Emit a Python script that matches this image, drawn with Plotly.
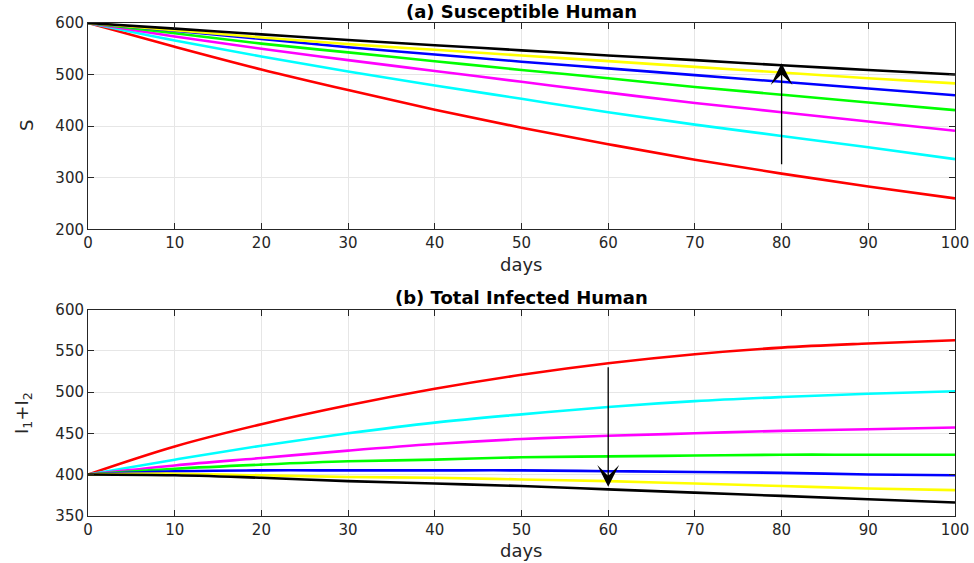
import plotly.graph_objects as go

days = [0, 10, 20, 30, 40, 50, 60, 70, 80, 90, 100]

# (a) Susceptible Human
S_red     = [600, 554, 510, 470, 432, 397, 365, 335, 308, 283, 260]
S_cyan    = [600, 566, 535, 506, 479, 453, 427, 403, 381, 359, 336]
S_magenta = [600, 574, 550, 528, 507, 486, 465, 445, 427, 409, 391]
S_green   = [600, 580, 560, 543, 526, 509, 493, 476, 461, 446, 431]
S_blue    = [600, 585, 569, 553, 539, 525, 512, 499, 486, 473, 460]
S_yellow  = [600, 586, 572, 559, 548, 537, 526, 515, 504, 493, 483]
S_black   = [600, 589, 578, 567, 557, 547, 537, 528, 518, 509, 500]

# (b) Total Infected Human
I_red     = [400, 434, 461, 484, 504, 521, 535, 546, 554, 559, 563]
I_cyan    = [400, 418, 435, 450, 463, 473, 482, 489, 494, 498, 501]
I_magenta = [400, 411, 420, 429, 437, 443, 447, 450, 453, 455, 457]
I_green   = [400, 407, 412, 416, 418, 421, 422, 423, 424, 424, 424]
I_blue    = [400, 404, 405, 405, 405, 405, 404, 403, 402, 400, 399]
I_yellow  = [400, 401, 399, 397, 396, 394, 392, 389, 386, 383, 381]
I_black   = [400, 399, 396, 392, 389, 386, 382, 378, 374, 370, 366]

colors = ["#ff0000", "#00ffff", "#ff00ff", "#00ff00", "#0000ff", "#ffff00", "#000000"]
S_series = [S_red, S_cyan, S_magenta, S_green, S_blue, S_yellow, S_black]
I_series = [I_red, I_cyan, I_magenta, I_green, I_blue, I_yellow, I_black]

x_ticks = [0, 10, 20, 30, 40, 50, 60, 70, 80, 90, 100]
S_ticks = [200, 300, 400, 500, 600]
I_ticks = [350, 400, 450, 500, 550, 600]

# arrows: [x, tail y, head y]
arrow_S = [80, 323, 522]
arrow_I = [60, 532, 385]

fig = go.Figure()
for c, ys in zip(colors, S_series):
    fig.add_trace(go.Scatter(x=days, y=ys, mode="lines", xaxis="x", yaxis="y",
                             line=dict(color=c, width=2.6, shape="spline", smoothing=1.0),
                             showlegend=False, hoverinfo="skip"))
for c, ys in zip(colors, I_series):
    fig.add_trace(go.Scatter(x=days, y=ys, mode="lines", xaxis="x2", yaxis="y2",
                             line=dict(color=c, width=2.6, shape="spline", smoothing=1.0),
                             showlegend=False, hoverinfo="skip"))

W, H = 974, 563
def px(x):
    return x / W
def py(y):
    return 1 - y / H

tick_font = dict(family="DejaVu Sans", size=15, color="#262626")
axis_common = dict(showline=True, linecolor="#262626", linewidth=1, mirror="ticks",
                   ticks="inside", ticklen=6, tickcolor="#262626", tickwidth=1,
                   showgrid=True, gridcolor="#e6e6e6", gridwidth=1,
                   zeroline=False, tickfont=tick_font, automargin=False)

xdom = [px(88), px(955)]
fig.update_layout(
    width=W, height=H, paper_bgcolor="white", plot_bgcolor="white",
    margin=dict(l=0, r=0, t=0, b=0, autoexpand=False),
    xaxis=dict(domain=xdom, range=[0, 100], tickvals=x_ticks, anchor="y", **axis_common),
    yaxis=dict(domain=[py(229.3), py(23)], range=[200, 600], tickvals=S_ticks, anchor="x", **axis_common),
    xaxis2=dict(domain=xdom, range=[0, 100], tickvals=x_ticks, anchor="y2", **axis_common),
    yaxis2=dict(domain=[py(515.7), py(309.7)], range=[350, 600], tickvals=I_ticks, anchor="x2", **axis_common),
)

ann = []
title_font = dict(family="DejaVu Sans", size=18, color="#000000")
label_font = dict(family="DejaVu Sans", size=18, color="#262626")
ann.append(dict(text="<b>(a) Susceptible Human</b>", x=px(521.5), y=py(11), xref="paper", yref="paper",
                showarrow=False, font=title_font, xanchor="center", yanchor="middle"))
ann.append(dict(text="<b>(b) Total Infected Human</b>", x=px(521.5), y=py(297), xref="paper", yref="paper",
                showarrow=False, font=title_font, xanchor="center", yanchor="middle"))
ann.append(dict(text="days", x=px(521), y=py(265), xref="paper", yref="paper",
                showarrow=False, font=label_font, xanchor="center", yanchor="middle"))
ann.append(dict(text="days", x=px(521), y=py(550), xref="paper", yref="paper",
                showarrow=False, font=label_font, xanchor="center", yanchor="middle"))
ann.append(dict(text="S", x=px(27), y=py(126), xref="paper", yref="paper", textangle=-90,
                showarrow=False, font=label_font, xanchor="center", yanchor="middle"))
ann.append(dict(text="I<sub>1</sub>+I<sub>2</sub>", x=px(23), y=py(413), xref="paper", yref="paper", textangle=-90,
                showarrow=False, font=label_font, xanchor="center", yanchor="middle"))
ann.append(dict(text="", x=arrow_S[0], y=arrow_S[2], ax=arrow_S[0], ay=arrow_S[1],
                xref="x", yref="y", axref="x", ayref="y", showarrow=True,
                arrowhead=3, arrowsize=2.8, arrowwidth=1.3, arrowcolor="#000000"))
ann.append(dict(text="", x=arrow_I[0], y=arrow_I[2], ax=arrow_I[0], ay=arrow_I[1],
                xref="x2", yref="y2", axref="x2", ayref="y2", showarrow=True,
                arrowhead=3, arrowsize=2.8, arrowwidth=1.3, arrowcolor="#000000"))
fig.update_layout(annotations=ann)

fig.write_html("out.html", config={"displayModeBar": False},
               post_script="document.body.style.margin='0';document.body.style.padding='0';")
